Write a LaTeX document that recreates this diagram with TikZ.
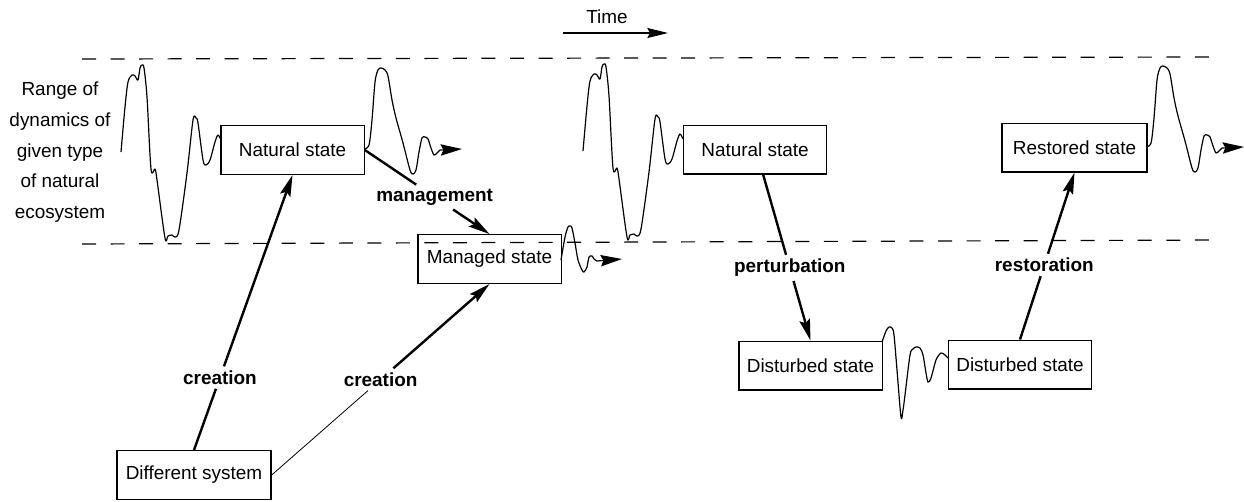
\documentclass[tikz,border=0pt]{standalone}
\usepackage{fontspec}
\setmainfont{Liberation Sans}
\usetikzlibrary{arrows.meta}
\begin{document}
\begin{tikzpicture}[x=0.75pt,y=-0.75pt,
  every node/.style={font=\fontsize{14.2pt}{17pt}\selectfont},
  box/.style={draw, line width=1pt, minimum width=107.5pt, minimum height=36.5pt, inner sep=0pt},
  lbl/.style={font=\fontsize{14.2pt}{17pt}\selectfont\bfseries, inner sep=3pt},
  connline/.style={line width=1.8pt},
  conn/.style={line width=1.8pt, -{Stealth[length=16pt,width=8pt,inset=2.5pt]}},
  thinconn/.style={line width=0.6pt},
  wave/.style={line width=0.9pt, line join=round},
  wavearr/.style={wave, -{Stealth[length=16pt,width=8.5pt,inset=2pt]}},
  rangeline/.style={dash pattern=on 10.5pt off 10.9pt, line width=0.9pt},
  sidetxt/.style={anchor=base, inner sep=0pt},
  timearr/.style={line width=1.1pt, -{Stealth[length=15.5pt,width=7.5pt,inset=2pt]}}
]
\useasboundingbox (0,0) rectangle (1244,501);

% range of natural dynamics
\draw[rangeline] (82,59) -- (1220,57);
\draw[rangeline] (82,244) -- (1220,240);

% time arrow
\node (time) at (607,17) {Time};
\coordinate (ts) at (563,33);
\coordinate (te) at (668,33);
\draw[timearr] (ts) -- (te);

% side label
\node[sidetxt] (r1) at (60,95) {Range of};
\node[sidetxt] (r2) at (60,126) {dynamics of};
\node[sidetxt] (r3) at (60,157) {given type};
\node[sidetxt] (r4) at (60,187) {of natural};
\node[sidetxt] (r5) at (60,218) {ecosystem};

% boxes
\node[box] (nat1) at (292.5,150) {Natural state};
\node[box] (mgd) at (489.5,259) {Managed state};
\node[box, minimum width=115.5pt] (diff) at (194,475) {Different system};
\node[box] (nat2) at (755,149.5) {Natural state};
\node[box, minimum width=108.75pt] (rest) at (1074.5,147.5) {Restored state};
\node[box] (dist1) at (810.5,365.5) {Disturbed state};
\node[box] (dist2) at (1020,364.5) {Disturbed state};

% waves before natural states
\foreach \dx/\dy in {0/0,462/-1}{
  \draw[wave, shift={(\dx,\dy)}] plot[smooth, tension=0.5] coordinates {(121,152) (125,107) (128,82) (132,75) (135,76) (138,80) (140,68) (142,65) (144,68) (147,97) (151,169) (155,169) (157,180) (165,238) (168,236) (172,235) (175,237) (179,230) (187,173) (193,120) (196,118) (198,123) (203,160) (206,165) (210,160) (215,142) (218,135) (221,140)};
}
% waves after natural / restored states
\foreach \dx/\dy in {0/0,782/-2}{
  \draw[wavearr, shift={(\dx,\dy)}] plot[smooth, tension=0.5] coordinates {(364,149) (369,145) (372,120) (375,82) (378,70) (381,68) (385,70) (388,76) (392,100) (396,118) (403,143) (410,170) (413,174) (416,170) (419,152) (422,138) (425,137) (428,139) (431,148) (434,155) (437,153) (440,150)} -- (462,149);
}
% wave after managed state
\draw[wavearr] plot[smooth, tension=0.5] coordinates {(561,260) (565,237) (568,227) (570,226) (572,228) (575,243) (578,260) (582,270) (584,272) (587,267) (589,257) (592,256) (594,259) (597,261)} -- (622,259);
% wave between disturbed states
\draw[wave] plot[smooth, tension=0.5] coordinates {(882,342) (886,331) (889,327) (892,328) (894,335) (897,370) (901,417) (903,410) (905,395) (910,355) (913,349) (916,347) (920,348) (923,355) (926,373) (928,382) (931,378) (936,360) (941,353) (945,355) (948,358)};

% connectors
\path (diff.north) -- (nat1.south) node[lbl, pos=0.2635] (lc1) {creation};
\draw[connline] (diff.north) -- (lc1);
\draw[conn] (lc1) -- (nat1.south);

\path (diff.east) -- (mgd.south) node[lbl, pos=0.5] (lc2) {creation};
\draw[thinconn] (diff.east) -- (lc2);
\draw[conn] (lc2) -- (mgd.south);

\path (nat1.east) -- (mgd.north) node[lbl, pos=0.56] (lm) {management};
\draw[connline] (nat1.east) -- (lm);
\draw[conn] (lm) -- (mgd.north);

\path (nat2.-72) -- (dist1.north) node[lbl, pos=0.563] (lp) {perturbation};
\draw[connline] (nat2.-72) -- (lp);
\draw[conn] (lp) -- (dist1.north);

\path (dist2.north) -- (rest.south) node[lbl, pos=0.446] (lr) {restoration};
\draw[connline] (dist2.north) -- (lr);
\draw[conn] (lr) -- (rest.south);
\end{tikzpicture}
\end{document}
